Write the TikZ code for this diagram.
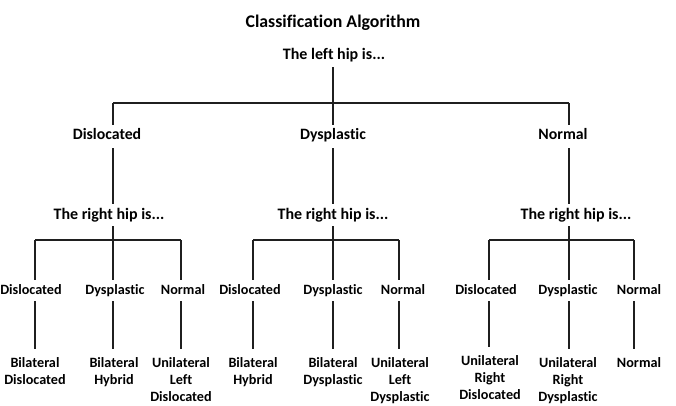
\documentclass[tikz,border=0pt]{standalone}
\usepackage{fontspec}
\setmainfont{Carlito}[Ligatures=NoCommon]
\begin{document}
\begin{tikzpicture}[x=1pt,y=-1pt,
 conn/.style={draw=black!88,line width=1.3pt},
 titletext/.style={font=\bfseries\fontsize{17.8}{21}\selectfont,inner sep=0pt,anchor=base},
 hiptext/.style={font=\bfseries\fontsize{16}{19}\selectfont,text height=11.5pt,text depth=4pt,inner xsep=0pt,inner ysep=3pt,anchor=base},
 lvltext/.style={font=\bfseries\fontsize{15.8}{19}\selectfont,text height=11pt,text depth=4pt,inner xsep=0pt,inner ysep=4pt,anchor=base},
 leaftext/.style={font=\bfseries\fontsize{14.2}{17}\selectfont,text height=10pt,text depth=3pt,inner xsep=0pt,inner ysep=4pt,anchor=base},
 finaltext/.style={font=\bfseries\fontsize{14.2}{17}\selectfont,align=center,inner xsep=0pt,inner ysep=8pt,anchor=north},
]
\useasboundingbox (0,0) rectangle (676,406);

% title and root
\node[titletext] (title) at (333,28) {Classification Algorithm};
\node[hiptext] (root) at (334,60) {The left hip is...};

% first-level bar
\coordinate (b1) at (113,103);
\coordinate (b2) at (333,103);
\coordinate (b3) at (569,103);

% left-hip states
\node[lvltext] (n1) at (107,140) {Dislocated};
\node[lvltext] (n2) at (333,140) {Dysplastic};
\node[lvltext] (n3) at (563,140) {Normal};

% right-hip questions
\node[hiptext] (r1) at (109,219) {The right hip is...};
\node[hiptext] (r2) at (333,219) {The right hip is...};
\node[hiptext] (r3) at (576,219) {The right hip is...};

% second-level bars
\coordinate (k11) at (35,240);  \coordinate (k12) at (113,240); \coordinate (k13) at (181,240);
\coordinate (k21) at (253,240); \coordinate (k22) at (333,240); \coordinate (k23) at (399,240);
\coordinate (k31) at (489,240); \coordinate (k32) at (569,240); \coordinate (k33) at (634,240);

% right-hip states
\node[leaftext] (l11) at (31,294) {Dislocated};
\node[leaftext] (l12) at (115,294) {Dysplastic};
\node[leaftext] (l13) at (183,294) {Normal};
\node[leaftext] (l21) at (250,294) {Dislocated};
\node[leaftext] (l22) at (333,294) {Dysplastic};
\node[leaftext] (l23) at (403,294) {Normal};
\node[leaftext] (l31) at (486,294) {Dislocated};
\node[leaftext] (l32) at (568,294) {Dysplastic};
\node[leaftext] (l33) at (639,294) {Normal};

% outcomes
\node[finaltext] (f11) at (35,349) {Bilateral\\Dislocated};
\node[finaltext] (f12) at (114,349) {Bilateral\\Hybrid};
\node[finaltext] (f13) at (181,349) {Unilateral\\Left\\Dislocated};
\node[finaltext] (f21) at (253,349) {Bilateral\\Hybrid};
\node[finaltext] (f22) at (333,349) {Bilateral\\Dysplastic};
\node[finaltext] (f23) at (400,349) {Unilateral\\Left\\Dysplastic};
\node[finaltext] (f31) at (490,347) {Unilateral\\Right\\Dislocated};
\node[finaltext] (f32) at (568,349) {Unilateral\\Right\\Dysplastic};
\node[finaltext] (f33) at (639,349) {Normal};

% connectors
\draw[conn] (root.south -| b2) -- (b2);
\draw[conn] (b1) -- (b3);
\foreach \i in {1,2,3}{
  \draw[conn] (b\i) -- (b\i |- n\i.north);
  \draw[conn] (b\i |- n\i.south) -- (b\i |- r\i.north);
  \draw[conn] (k\i2 |- r\i.south) -- (k\i2);
  \draw[conn] (k\i1) -- (k\i3);
  \foreach \j in {1,2,3}{
    \draw[conn] (k\i\j) -- (k\i\j |- l\i\j.north);
    \draw[conn] (k\i\j |- l\i\j.south) -- (k\i\j |- f\i\j.north);
  }
}
\end{tikzpicture}
\end{document}
